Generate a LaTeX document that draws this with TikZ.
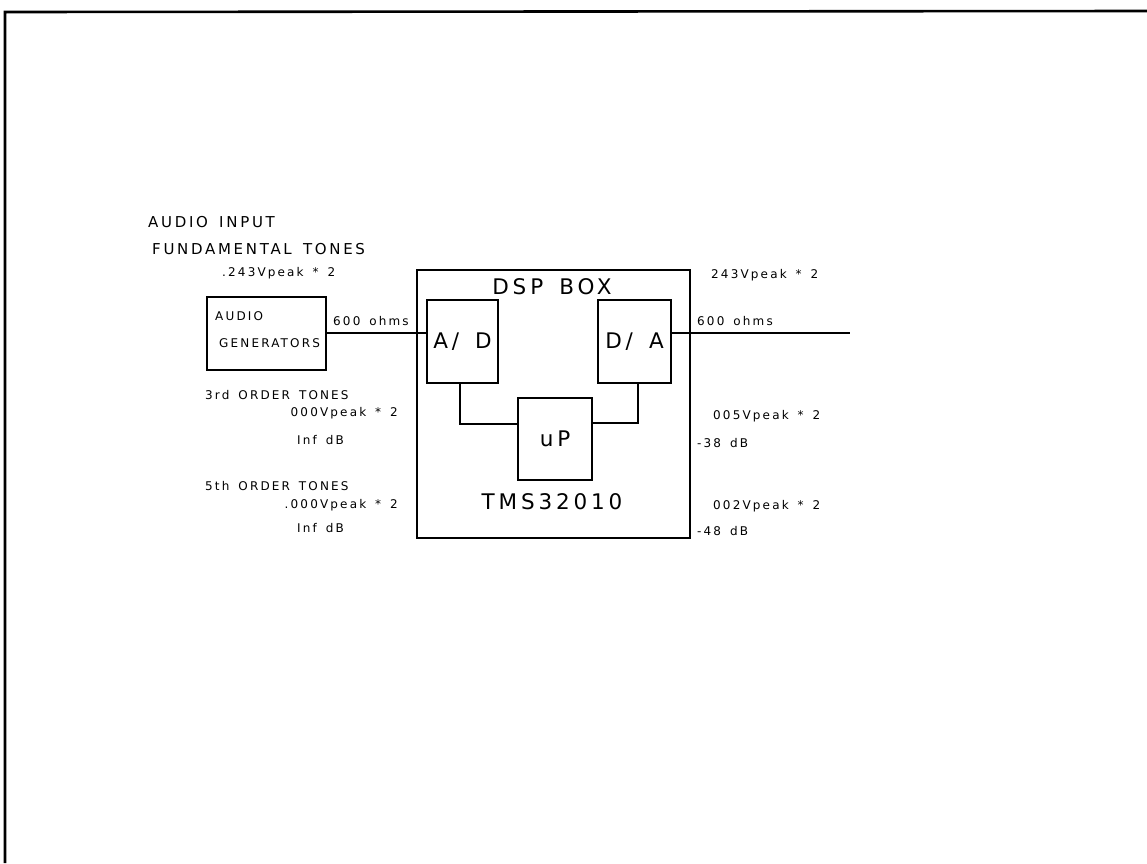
\documentclass[tikz,border=0pt]{standalone}
\usepackage{fontspec}
\setmainfont{DejaVu Sans}[LetterSpace=18, WordSpace=1.5]
\usetikzlibrary{positioning}
\tikzset{
  blk/.style={draw, line width=1.4pt, inner sep=0pt, align=center},
  txt/.style={inner sep=0pt, font=\fontsize{12}{14}\selectfont},
  mid/.style={inner sep=0pt, font=\fontsize{15}{18}\selectfont},
  big/.style={inner sep=0pt, font=\fontsize{21.5}{25}\selectfont},
  wire/.style={line width=1.2pt},
}

\begin{document}
\begin{tikzpicture}[x=1pt, y=-1pt]
  \useasboundingbox (0,0) rectangle (1147,863);
  % frame
  \draw[line width=2.6pt] (1147,11) -- (5,12) -- (5,863);
  % boxes
  \node[blk, minimum width=119, minimum height=73] (gen) at (266.5,333.5) {};
  \node[blk, minimum width=273, minimum height=268] (dsp) at (553.5,404) {};
  \node[blk, big, minimum width=71, minimum height=83] (ad) at (462.5,341.5) {A/ D};
  \node[blk, big, minimum width=73, minimum height=83] (da) at (634.5,341.5) {D/ A};
  \node[blk, big, minimum width=74, minimum height=82] (up) at (555,439) {uP};
  % box texts
  \node[txt, anchor=west] (genA) at (215,316) {AUDIO};
  \node[txt, anchor=west] (genB) at (219,343) {GENERATORS};
  \node[big] (dspT) at (552,287) {DSP BOX};
  \node[big] (tms) at (552,502) {TMS32010};
  % input side labels
  \node[mid, anchor=west] (ain)  at (148,222) {AUDIO INPUT};
  \node[mid, anchor=west] (fund) at (152,249) {FUNDAMENTAL TONES};
  \node[txt, anchor=west] (fv)   at (222,273) {.243Vpeak * 2};
  \node[txt, anchor=west] (lohm) at (333,321) {600 ohms};
  \node[txt, anchor=west] (t3)   at (205,395) {3rd ORDER TONES};
  \node[txt, anchor=east] (t3v)  at (398,413) {000Vpeak * 2};
  \node[txt, anchor=west] (t3d)  at (297,440) {Inf dB};
  \node[txt, anchor=west] (t5)   at (205,486) {5th ORDER TONES};
  \node[txt, anchor=east] (t5v)  at (398,505) {.000Vpeak * 2};
  \node[txt, anchor=west] (t5d)  at (297,528) {Inf dB};
  % output side labels
  \node[txt, anchor=west] (ov)   at (711,275) {243Vpeak * 2};
  \node[txt, anchor=west] (rohm) at (697,321) {600 ohms};
  \node[txt, anchor=west] (o3v)  at (713,416) {005Vpeak * 2};
  \node[txt, anchor=west] (o3d)  at (697,443) {-38 dB};
  \node[txt, anchor=west] (o5v)  at (713,506) {002Vpeak * 2};
  \node[txt, anchor=west] (o5d)  at (697,531) {-48 dB};
  % wires
  \coordinate (sig) at (0,333);
  \coordinate (out) at (850,333);
  \draw[wire] (gen.east |- sig) -- (ad.west |- sig);
  \draw[wire] (da.east |- out) -- (out);
  \draw[wire] ([xshift=-2.5]ad.south) |- ([yshift=15]up.west);
  \draw[wire] ([xshift=3.5]da.south) |- ([yshift=16]up.east);
\end{tikzpicture}
\end{document}
